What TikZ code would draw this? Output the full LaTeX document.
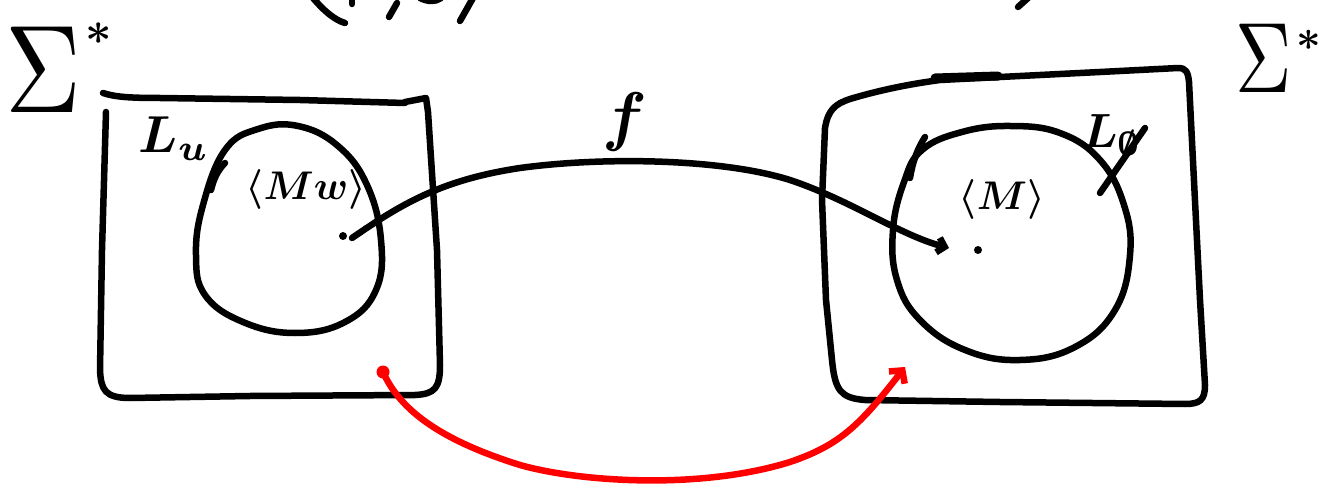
\documentclass[tikz,border=0pt]{standalone}
\usetikzlibrary{arrows.meta}
\tikzset{
  pen/.style={line width=6.5pt, line cap=round, line join=round},
  redpen/.style={pen, red},
  hand/.style={inner sep=0pt, text=black, font=\boldmath},
  sig/.style={inner sep=0pt, text=black},
  dotmark/.style={circle, fill=black, inner sep=0pt, minimum size=8pt}
}
\begin{document}
\begin{tikzpicture}[x=1pt,y=-1pt]
\useasboundingbox[fill=white] (0,0) rectangle (1331,489);

% top cut-off fragments
\draw[pen] (313,-2) .. controls (325,12) and (335,20) .. (345,23);
\draw[pen] (352,-2) -- (352,4);
\draw[pen] (397,3) -- (389,17);
\draw[pen] (420,-2) .. controls (428,2) and (436,2) .. (441,-2);
\draw[pen] (473,-2) -- (460,21);
\draw[pen] (1028,-2) -- (1018,7);

% Sigma labels
\node[sig, xscale=10.5, yscale=12.5] (sigL) at (43,70) {$\Sigma$};
\node[hand, scale=4.6] (starL) at (99,34) {$*$};
\node[sig, xscale=7.8, yscale=10] (sigR) at (1264,58) {$\Sigma$};
\node[hand, scale=4.3] (starR) at (1309,40) {$*$};

% left box
\draw[pen] (103,93) .. controls (115,97) and (130,98) .. (160,98) -- (300,100) -- (405,103);
\draw[pen] (405,102) -- (426,98) -- (428,112) -- (437,250) -- (440,365)
  .. controls (440,388) and (435,394) .. (415,395) -- (250,396) -- (130,398)
  .. controls (105,398) and (101,390) .. (100,370) -- (102,250) -- (106,112);

% right box
\draw[pen] (825,128) .. controls (828,110) and (835,104) .. (850,99)
  .. controls (880,90) and (910,84) .. (940,80) -- (1100,72) -- (1178,68)
  .. controls (1186,68) and (1188,72) .. (1189,82) -- (1200,300) -- (1205,385)
  .. controls (1205,400) and (1200,404) .. (1185,404) -- (1000,402) -- (865,400)
  .. controls (840,398) and (835,390) .. (832,360) -- (826,300) -- (822,200) -- (825,128);
\draw[line width=9pt, line cap=round] (935,78) -- (998,76);

% left circle L_u
\draw[pen] plot[smooth cycle, tension=0.7] coordinates {(225,150) (258,129) (298,126) (338,146) (367,185) (381,240) (376,290) (345,322) (295,333) (243,322) (205,295) (196,255) (203,205)};
\draw[pen] (211,190) .. controls (214,178) and (218,170) .. (225,163);
\node[hand, scale=5.2] (Lu) at (174,139) {$L_u$};
\node[hand, scale=4.0] (Mw) at (306,190) {$\langle M w\rangle$};
\node[dotmark] (dL) at (343,236) {};

% right circle L_empty
\draw[pen] plot[smooth cycle, tension=0.7] coordinates {(922,150) (962,132) (1010,126) (1060,133) (1100,160) (1124,205) (1130,255) (1115,310) (1075,347) (1020,360) (965,350) (920,320) (897,280) (893,230) (904,182)};
\draw[pen] (910,178) .. controls (913,160) and (918,148) .. (925,137);
\node[hand, scale=4.8] (Le) at (1112,136) {$L_\emptyset$};
\draw[pen] (1145,128) -- (1100,193);
\node[hand, scale=4.0] (M) at (1002,200) {$\langle M\rangle$};
\node[dotmark] (dR) at (978,250) {};

% arrow f
\coordinate (fs) at (352,238);
\coordinate (fe) at (949,248);
\draw[pen, -{Straight Barb[length=7pt,width=15pt]}] (fs)
  .. controls (400,205) and (440,180) .. (520,168)
  .. controls (600,157) and (720,158) .. (790,180)
  .. controls (850,200) and (900,235) .. (fe);
\node[hand, scale=6.6] (f) at (625,122) {$f$};

% red arrow
\node[circle, fill=red, inner sep=0pt, minimum size=13pt] (rs) at (383,372) {};
\coordinate (re) at (905,367);
\draw[redpen, -{Straight Barb[length=9pt,width=20pt]}] (rs.center)
  .. controls (400,410) and (440,440) .. (520,465)
  .. controls (580,482) and (700,490) .. (790,462)
  .. controls (840,445) and (860,425) .. (re);
\end{tikzpicture}
\end{document}
